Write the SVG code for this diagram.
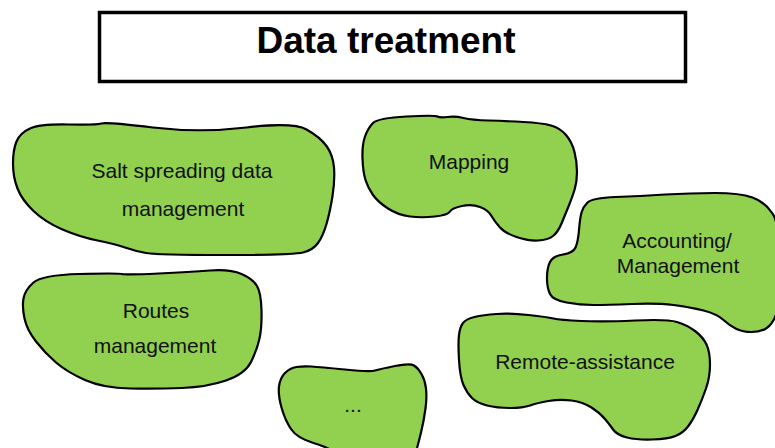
<svg xmlns="http://www.w3.org/2000/svg" width="775" height="448" viewBox="0 0 775 448">
  <style>
    .blob { fill: #92D050; stroke: #000; stroke-width: 2.2; stroke-linejoin: round; }
    .label { font-family: "Liberation Sans", Arial, sans-serif; font-size: 21px; fill: #111; text-anchor: middle; }
    .title { font-family: "Liberation Sans", Arial, sans-serif; font-size: 37px; font-weight: bold; fill: #000; text-anchor: middle; }
  </style>
  <rect width="775" height="448" fill="#fff"/>

  <!-- header box -->
  <g id="title">
    <rect x="99.5" y="12.5" width="586" height="69" fill="#fff" stroke="#000" stroke-width="3.5"/>
    <text class="title" x="386" y="53">Data treatment</text>
  </g>

  <g id="salt-spreading">
    <path class="blob" d="M16.5,141.5 Q20,133 30,128.5 Q40,124 68.5,124.5 Q97,125 101.5,123.5 Q106,122 153,127.5 Q200,133 246.5,127.5 Q293,122 306.5,129.5 Q320,137 326.5,146 Q333,155 334,167.5 Q335,180 332.5,196 Q330,212 326.5,224 Q323,236 318,243 Q313,250 303,252.5 Q293,255 225,255 Q157,255 146,253 Q135,251 125,247.5 Q115,244 97.5,240.5 Q80,237 62.5,229.5 Q45,222 33.5,211 Q22,200 17.5,188.5 Q13,177 13,163.5 Q13,150 16.5,141.5 Z"/>
    <text class="label" x="182" y="178">Salt spreading data</text>
    <text class="label" x="183" y="216">management</text>
  </g>

  <g id="mapping">
    <path class="blob" d="M373,123 Q378,118 406.5,116.5 Q435,115 437.5,116.5 Q440,118 447.5,117 Q455,116 463.5,118 Q472,120 488.5,120.5 Q505,121 523.5,122 Q542,123 551,125.5 Q560,128 566,135 Q572,142 574.5,152 Q577,162 577,172 Q577,182 574.5,190 Q572,198 568.5,206.5 Q565,215 561.5,223.5 Q558,232 553,236 Q548,240 538,240.5 Q528,241 516.5,237 Q505,233 500,227.5 Q495,222 491.5,216 Q488,210 480,207 Q472,204 462,206 Q452,208 450,211.5 Q448,215 435,216.5 Q422,218 410,216.5 Q398,215 388,208.5 Q378,202 373,195 Q368,188 365.5,180 Q363,172 362.5,158.5 Q362,145 365,136.5 Q368,128 373,123 Z"/>
    <text class="label" x="469" y="169">Mapping</text>
  </g>

  <g id="accounting">
    <path class="blob" d="M587.5,202.5 Q592,198 616,197 Q640,196 665,194.5 Q690,193 715,193 Q740,193 752.5,197.5 Q765,202 772.5,213.5 Q780,225 780,265 Q780,305 776,315 Q772,325 766,328.5 Q760,332 751.5,332 Q743,332 736.5,329 Q730,326 723.5,320 Q717,314 703.5,310.5 Q690,307 673.5,305 Q657,303 632,304 Q607,305 593.5,305 Q580,305 566.5,302.5 Q553,300 550,294 Q547,288 547,278 Q547,268 550,262 Q553,256 563,254.5 Q573,253 575.5,247.5 Q578,242 579,230 Q580,218 581.5,212.5 Q583,207 587.5,202.5 Z"/>
    <text class="label" x="677" y="248">Accounting/</text>
    <text class="label" x="678" y="273">Management</text>
  </g>

  <g id="routes">
    <path class="blob" d="M33.5,282.5 Q42,275 79.5,274 Q117,273 122,274 Q127,275 158.5,273.5 Q190,272 210,270.5 Q230,269 241.5,274 Q253,279 257,286 Q261,293 261.5,310 Q262,327 259.5,338.5 Q257,350 251,362 Q245,374 226,380.5 Q207,387 182,388 Q157,389 130,388.5 Q103,388 85,380 Q67,372 56,362.5 Q45,353 36,341.5 Q27,330 24.5,318.5 Q22,307 23.5,298.5 Q25,290 33.5,282.5 Z"/>
    <text class="label" x="156" y="318">Routes</text>
    <text class="label" x="155" y="353">management</text>
  </g>

  <g id="more">
    <path class="blob" d="M285,373 Q290,368 296.5,367 Q303,366 311.5,366.5 Q320,367 345,369.5 Q370,372 375,370.5 Q380,369 395,366 Q410,363 414,365.5 Q418,368 421.5,374 Q425,380 426,388.5 Q427,397 425.5,408.5 Q424,420 421,432.5 Q418,445 416,451.5 Q414,458 377,458 Q340,458 335,453 Q330,448 313.5,443 Q297,438 291,429 Q285,420 281.5,407.5 Q278,395 279,386.5 Q280,378 285,373 Z"/>
    <text class="label" x="353" y="412">...</text>
  </g>

  <g id="remote-assistance">
    <path class="blob" d="M463,323 Q466,319 474.5,317 Q483,315 496.5,314 Q510,313 528.5,315 Q547,317 553.5,318.5 Q560,320 581.5,321 Q603,322 635,320.5 Q667,319 677,322 Q687,325 695,331 Q703,337 706.5,344.5 Q710,352 710,364.5 Q710,377 706,388.5 Q702,400 697.5,410 Q693,420 688,426.5 Q683,433 675.5,436 Q668,439 652.5,439.5 Q637,440 627,437.5 Q617,435 613.5,430 Q610,425 605,419 Q600,413 591.5,407.5 Q583,402 571.5,400.5 Q560,399 548.5,401 Q537,403 530,405.5 Q523,408 510,408 Q497,408 487,405.5 Q477,403 472,398 Q467,393 463.5,385 Q460,377 459,360 Q458,343 459,335 Q460,327 463,323 Z"/>
    <text class="label" x="585" y="369">Remote-assistance</text>
  </g>

  <!-- no connectors between the areas -->
  <g id="connectors"/>
</svg>
